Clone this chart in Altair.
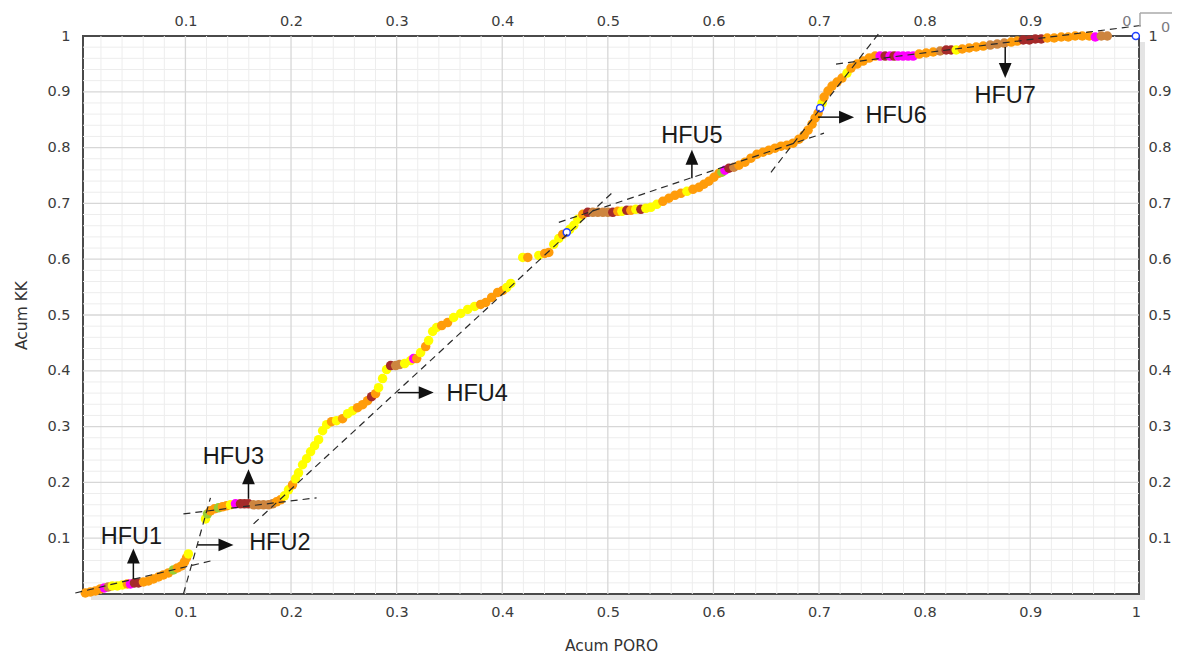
import altair as alt
import pandas as pd

# ---------------- data ----------------
poro = [0.0052, 0.0100, 0.0147, 0.0194, 0.0232, 0.0270, 0.0308, 0.0355, 0.0403, 0.0450,
        0.0479, 0.0517, 0.0555, 0.0602, 0.0649, 0.0697, 0.0744, 0.0791, 0.0839, 0.0886,
        0.0924, 0.0962, 0.0991, 0.1010, 0.1028,
        0.1190, 0.1209, 0.1237, 0.1275, 0.1313, 0.1351, 0.1389, 0.1427, 0.1474, 0.1521,
        0.1559, 0.1597, 0.1645, 0.1692, 0.1739, 0.1787, 0.1825, 0.1863, 0.1900, 0.1938,
        0.1976, 0.2014, 0.2043, 0.2071, 0.2109, 0.2147, 0.2185, 0.2223, 0.2261, 0.2299,
        0.2337, 0.2384, 0.2431, 0.2488, 0.2536, 0.2583, 0.2630, 0.2678, 0.2725, 0.2763,
        0.2801, 0.2829, 0.2867, 0.2905, 0.2943, 0.2991, 0.3028, 0.3076, 0.3133, 0.3161,
        0.3190, 0.3227, 0.3275, 0.3303, 0.3341, 0.3379, 0.3427, 0.3483, 0.3540, 0.3607,
        0.3673, 0.3739, 0.3796, 0.3844, 0.3900, 0.3957, 0.4005, 0.4043, 0.4081,
        0.4194, 0.4242, 0.4346, 0.4403, 0.4441, 0.4488, 0.4536, 0.4573, 0.4611, 0.4640,
        0.4678, 0.4716, 0.4763, 0.4810, 0.4858, 0.4905, 0.4953, 0.5000, 0.5047, 0.5095,
        0.5133, 0.5180, 0.5218, 0.5265, 0.5313, 0.5360, 0.5408, 0.5464, 0.5521, 0.5578,
        0.5635, 0.5692, 0.5749, 0.5806, 0.5863, 0.5910, 0.5957, 0.6005, 0.6052, 0.6081,
        0.6109, 0.6147, 0.6194, 0.6242, 0.6299, 0.6355, 0.6412, 0.6469, 0.6526, 0.6583,
        0.6640, 0.6697, 0.6754, 0.6810, 0.6858, 0.6896, 0.6934, 0.6962, 0.6991, 0.7010,
        0.7029, 0.7048, 0.7085, 0.7123, 0.7171, 0.7218, 0.7265, 0.7303, 0.7360, 0.7417,
        0.7474, 0.7531, 0.7578, 0.7626, 0.7673, 0.7711, 0.7749, 0.7796, 0.7844, 0.7891,
        0.7948, 0.8014, 0.8081, 0.8147, 0.8204, 0.8251, 0.8299, 0.8356, 0.8422, 0.8488,
        0.8555, 0.8621, 0.8687, 0.8754, 0.8820, 0.8877, 0.8934, 0.8991, 0.9048, 0.9104,
        0.9161, 0.9227, 0.9294, 0.9360, 0.9426, 0.9493, 0.9559, 0.9616, 0.9673, 0.9730,
        1.0000]

kk = [0.0018, 0.0036, 0.0054, 0.0090, 0.0108, 0.0126, 0.0144, 0.0144, 0.0162, 0.0180,
      0.0180, 0.0197, 0.0197, 0.0215, 0.0233, 0.0269, 0.0305, 0.0341, 0.0377, 0.0431,
      0.0467, 0.0503, 0.0575, 0.0646, 0.0718,
      0.1346, 0.1436, 0.1490, 0.1526, 0.1544, 0.1562, 0.1580, 0.1598, 0.1616, 0.1616,
      0.1616, 0.1616, 0.1598, 0.1598, 0.1598, 0.1598, 0.1616, 0.1652, 0.1688, 0.1759,
      0.1867, 0.1957, 0.2065, 0.2172, 0.2316, 0.2424, 0.2549, 0.2657, 0.2765, 0.2926,
      0.3034, 0.3088, 0.3106, 0.3142, 0.3232, 0.3285, 0.3339, 0.3393, 0.3465, 0.3537,
      0.3591, 0.3698, 0.3860, 0.4022, 0.4093, 0.4093, 0.4111, 0.4129, 0.4183, 0.4219,
      0.4219, 0.4327, 0.4434, 0.4542, 0.4704, 0.4776, 0.4811, 0.4865, 0.4955, 0.5027,
      0.5099, 0.5153, 0.5189, 0.5224, 0.5314, 0.5404, 0.5440, 0.5494, 0.5566,
      0.6032, 0.6032, 0.6068, 0.6104, 0.6122, 0.6266, 0.6373, 0.6445, 0.6481, 0.6535,
      0.6607, 0.6715, 0.6804, 0.6840, 0.6840, 0.6840, 0.6840, 0.6840, 0.6840, 0.6858,
      0.6858, 0.6876, 0.6876, 0.6894, 0.6894, 0.6912, 0.6930, 0.6984, 0.7038, 0.7092,
      0.7145, 0.7181, 0.7217, 0.7253, 0.7289, 0.7343, 0.7397, 0.7469, 0.7540, 0.7558,
      0.7594, 0.7630, 0.7648, 0.7684, 0.7738, 0.7810, 0.7881, 0.7917, 0.7953, 0.7989,
      0.8025, 0.8043, 0.8079, 0.8151, 0.8223, 0.8312, 0.8420, 0.8528, 0.8618, 0.8707,
      0.8797, 0.8905, 0.9013, 0.9102, 0.9174, 0.9246, 0.9336, 0.9425, 0.9497, 0.9551,
      0.9605, 0.9641, 0.9641, 0.9641, 0.9641, 0.9641, 0.9641, 0.9641, 0.9641, 0.9641,
      0.9677, 0.9695, 0.9713, 0.9731, 0.9749, 0.9749, 0.9749, 0.9767, 0.9785, 0.9803,
      0.9820, 0.9838, 0.9856, 0.9874, 0.9892, 0.9910, 0.9928, 0.9928, 0.9946, 0.9946,
      0.9964, 0.9964, 0.9982, 0.9982, 1.0000, 1.0000, 1.0000, 0.9982, 1.0000, 1.0000,
      1.0000]

facies = ["O", "O", "O", "O", "M", "P", "Y", "Y", "Y", "O",
          "M", "R", "R", "O", "O", "O", "O", "O", "O", "G",
          "O", "O", "O", "O", "Y",
          "Y", "G", "O", "O", "G", "O", "O", "Y", "M", "R",
          "R", "R", "P", "P", "P", "P", "P", "O", "O", "Y",
          "Y", "O", "Y", "Y", "Y", "Y", "Y", "Y", "Y", "Y",
          "Y", "O", "Y", "O", "Y", "Y", "O", "O", "O", "R",
          "O", "Y", "Y", "Y", "R", "P", "P", "Y", "Y", "M",
          "O", "Y", "O", "Y", "Y", "Y", "O", "O", "Y", "Y",
          "Y", "Y", "O", "O", "O", "O", "O", "Y", "Y",
          "Y", "O", "Y", "O", "O", "Y", "Y", "O", "B", "Y",
          "Y", "Y", "O", "R", "P", "P", "P", "P", "R", "O",
          "Y", "R", "O", "Y", "R", "Y", "Y", "Y", "O", "O",
          "O", "O", "Y", "O", "O", "O", "O", "O", "O", "G",
          "M", "R", "P", "O", "O", "O", "O", "O", "O", "O",
          "O", "O", "O", "O", "O", "O", "O", "O", "O", "B",
          "Y", "O", "O", "O", "O", "O", "Y", "O", "O", "O",
          "O", "O", "M", "R", "M", "R", "M", "M", "M", "M",
          "O", "O", "O", "P", "R", "R", "Y", "O", "O", "O",
          "O", "P", "P", "P", "O", "O", "R", "R", "R", "R",
          "O", "O", "O", "O", "O", "O", "O", "M", "P", "P",
          "B"]

facies_codes = ["Y", "O", "P", "R", "M", "G"]
facies_colors = ["#FFFF00", "#FF9C0A", "#CD853F", "#A52A2A", "#FF00FF", "#9ACD32"]

# fitted HFU straight segments (dashed)
seg_x1 = [-0.0043, 0.0981, 0.0981, 0.1645, 0.4536, 0.6545, 0.7161]
seg_y1 = [0.0018, 0.0000, 0.1436, 0.1257, 0.6660, 0.7558, 0.9497]
seg_x2 = [0.1237, 0.1237, 0.2242, 0.5057, 0.7047, 0.7569, 1.0081]
seg_y2 = [0.0592, 0.1724, 0.1724, 0.7217, 0.8259, 1.0054, 1.0197]

# annotations
hfu_names = ["HFU1", "HFU2", "HFU3", "HFU4", "HFU5", "HFU6", "HFU7"]
label_x = [0.0488, 0.1894, 0.1455, 0.3763, 0.5796, 0.7730, 0.8763]
label_y = [0.1014, 0.0907, 0.2451, 0.3590, 0.8205, 0.8560, 0.8932]
shaft_x1 = [0.0507, 0.1114, 0.1597, 0.3009, 0.5796, 0.6991, 0.8763]
shaft_y1 = [0.0269, 0.0880, 0.1706, 0.3609, 0.7451, 0.8546, 0.9803]
shaft_x2 = [0.0507, 0.1332, 0.1597, 0.3227, 0.5796, 0.7209, 0.8763]
shaft_y2 = [0.0592, 0.0880, 0.1993, 0.3609, 0.7738, 0.8546, 0.9515]
head_x = [0.0507, 0.1384, 0.1597, 0.3280, 0.5796, 0.7261, 0.8763]
head_y = [0.0682, 0.0880, 0.2101, 0.3609, 0.7828, 0.8546, 0.9380]
head_angle = [0, 90, 0, 90, 0, 90, 180]

# stray "0" labels at the top right of the original
zero_x = [0.9915, 1.0283]
zero_y = [1.0250, 1.0143]
zero_text = ["0", "0"]

# ticks
x_ticks = [0.1, 0.2, 0.3, 0.4, 0.5, 0.6, 0.7, 0.8, 0.9, 1.0]
x_ticks_top = [0.1, 0.2, 0.3, 0.4, 0.5, 0.6, 0.7, 0.8, 0.9]
y_ticks = [0.1, 0.2, 0.3, 0.4, 0.5, 0.6, 0.7, 0.8, 0.9, 1.0]
major_grid = [0.1, 0.2, 0.3, 0.4, 0.5, 0.6, 0.7, 0.8, 0.9]
minor_grid = [round(0.02 * k, 2) for k in range(1, 50) if k % 5]

# ---------------- chart ----------------
W, H = 1056, 558
xs = alt.Scale(domain=[0.003, 1.003], nice=False, zero=False)
ys = alt.Scale(domain=[0.0, 1.0], nice=False, zero=False)

LBL = dict(labelFont="DejaVu Sans", labelFontSize=14.5, labelColor="#3c3c3c",
           titleFont="DejaVu Sans", titleFontSize=15.5, titleColor="#333333",
           titleFontWeight="normal", ticks=False, domain=False, grid=False,
           format="~g", labelFlush=False, labelOverlap=False)

pts = pd.DataFrame({"poro": poro, "kk": kk, "f": facies})
segs = pd.DataFrame({"x1": seg_x1, "y1": seg_y1, "x2": seg_x2, "y2": seg_y2})
ann = pd.DataFrame({"name": hfu_names, "lx": label_x, "ly": label_y,
                    "sx1": shaft_x1, "sy1": shaft_y1, "sx2": shaft_x2, "sy2": shaft_y2,
                    "hx": head_x, "hy": head_y, "ha": head_angle})
zeros = pd.DataFrame({"x": zero_x, "y": zero_y, "t": zero_text})
gmin = pd.DataFrame({"v": minor_grid})
gmaj = pd.DataFrame({"v": major_grid})
one = pd.DataFrame({"a": [0]})

shadow_r = alt.Chart(one).mark_rect(color="#e4e4e4").encode(
    x=alt.value(W + 1), x2=alt.value(W + 6), y=alt.value(6), y2=alt.value(H + 6))
shadow_b = alt.Chart(one).mark_rect(color="#e4e4e4").encode(
    x=alt.value(8), x2=alt.value(W + 6), y=alt.value(H + 1), y2=alt.value(H + 6))

minor_v = alt.Chart(gmin).mark_rule(color="#ededed", strokeWidth=1).encode(
    x=alt.X("v:Q", scale=xs,
            axis=alt.Axis(orient="bottom", values=x_ticks, title="Acum PORO",
                          labelPadding=11, titlePadding=20, **LBL)))
minor_h = alt.Chart(gmin).mark_rule(color="#ededed", strokeWidth=1).encode(
    y=alt.Y("v:Q", scale=ys,
            axis=alt.Axis(orient="left", values=y_ticks, title="Acum KK",
                          labelPadding=13, titlePadding=17, **LBL)))
major_v = alt.Chart(gmaj).mark_rule(color="#d7d7d7", strokeWidth=1.3).encode(
    x=alt.X("v:Q", scale=xs,
            axis=alt.Axis(orient="top", values=x_ticks_top, title=None,
                          labelPadding=8, **LBL)))
major_h = alt.Chart(gmaj).mark_rule(color="#d7d7d7", strokeWidth=1.3).encode(
    y=alt.Y("v:Q", scale=ys,
            axis=alt.Axis(orient="right", values=y_ticks, title=None,
                          labelPadding=9, **LBL)))

dashed = alt.Chart(segs).mark_rule(color="#2a2a2a", strokeWidth=1.2,
                                   strokeDash=[7, 5]).encode(
    x=alt.X("x1:Q", scale=xs, axis=None), y=alt.Y("y1:Q", scale=ys, axis=None),
    x2="x2:Q", y2="y2:Q")

points = alt.Chart(pts).transform_filter("datum.f != 'B'").mark_circle(
    size=90, opacity=1).encode(
    x=alt.X("poro:Q", scale=xs, axis=None),
    y=alt.Y("kk:Q", scale=ys, axis=None),
    color=alt.Color("f:N", scale=alt.Scale(domain=facies_codes, range=facies_colors),
                    legend=None))

blue = alt.Chart(pts).transform_filter("datum.f == 'B'").mark_point(
    shape="circle", size=50, fill="white", fillOpacity=1, stroke="#2040ff",
    strokeWidth=1.5, opacity=1).encode(
    x=alt.X("poro:Q", scale=xs, axis=None),
    y=alt.Y("kk:Q", scale=ys, axis=None))

shafts = alt.Chart(ann).mark_rule(color="#111111", strokeWidth=1.5).encode(
    x=alt.X("sx1:Q", scale=xs, axis=None), y=alt.Y("sy1:Q", scale=ys, axis=None),
    x2="sx2:Q", y2="sy2:Q")

heads = alt.Chart(ann).mark_point(shape="M0,-1L0.85,1L-0.85,1Z", size=225,
                                  filled=True, color="#111111", opacity=1).encode(
    x=alt.X("hx:Q", scale=xs, axis=None), y=alt.Y("hy:Q", scale=ys, axis=None),
    angle=alt.Angle("ha:Q", scale=None))

labels = alt.Chart(ann).mark_text(font="Liberation Sans", fontSize=23.5,
                                  color="#1a1a1a").encode(
    x=alt.X("lx:Q", scale=xs, axis=None), y=alt.Y("ly:Q", scale=ys, axis=None),
    text="name:N")

zero_lbl = alt.Chart(zeros).mark_text(font="DejaVu Sans", fontSize=14.5,
                                      color="#7a7a80").encode(
    x=alt.X("x:Q", scale=xs, axis=None), y=alt.Y("y:Q", scale=ys, axis=None),
    text="t:N")

corner_h = alt.Chart(one).mark_rule(color="#aaaaaa", strokeWidth=1.5).encode(
    x=alt.value(W + 1), x2=alt.value(W + 40), y=alt.value(-23))
corner_v = alt.Chart(one).mark_rule(color="#aaaaaa", strokeWidth=1.5).encode(
    x=alt.value(W + 1), y=alt.value(-23), y2=alt.value(-9))

chart = alt.layer(
    shadow_r, shadow_b, minor_v, minor_h, major_v, major_h, points, blue, dashed,
    shafts, heads, labels, zero_lbl, corner_h, corner_v
).resolve_axis(x="independent", y="independent").properties(
    width=W, height=H,
    autosize=alt.AutoSizeParams(type="none"),
    padding={"left": 75, "top": 28, "right": 33, "bottom": 60},
    background="white",
).configure_view(stroke="#4a4a4a", strokeWidth=2)

chart.save("out.html", embed_options={"renderer": "svg", "actions": False})
